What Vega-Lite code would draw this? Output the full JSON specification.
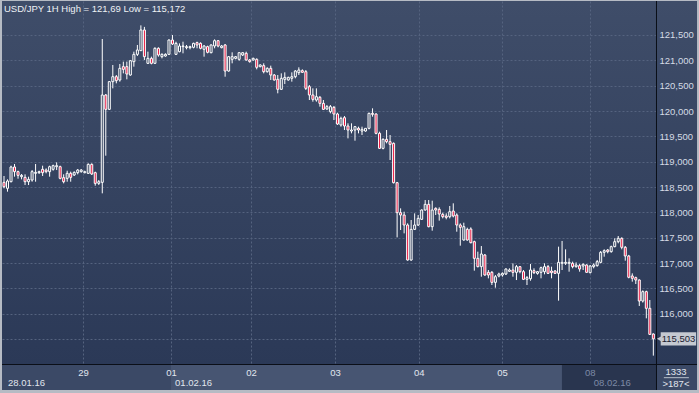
{
"$schema": "https://vega.github.io/schema/vega-lite/v6.json",
"width": 654, "height": 363,
"autosize": {"type": "none"},
"padding": {"left": 2, "top": 1, "right": 43, "bottom": 29},
"background": "#b6bbc4",
"view": {"fill": {"gradient": "linear", "x1": 0, "y1": 0, "x2": 0, "y2": 1, "stops": [{"offset": 0, "color": "#3f4d69"}, {"offset": 1, "color": "#2b3957"}]}, "stroke": null},
"title": {"text": "USD/JPY 1H High = 121,69 Low = 115,172", "anchor": "start", "frame": "group", "orient": "top", "offset": -13, "dx": 2, "fontSize": 9.5, "fontWeight": "normal", "color": "#eef1f5", "font": "Liberation Sans"},
"config": {"font": "Liberation Sans", "locale": {"number": {"decimal": ",", "thousands": ".", "grouping": [3], "currency": ["", ""]}}},
"datasets": {
"candles": [
{"i":0,"o":118.592,"h":118.717,"l":118.474,"c":118.506},
{"i":1,"o":118.474,"h":118.651,"l":118.408,"c":118.618},
{"i":2,"o":118.605,"h":118.921,"l":118.592,"c":118.895},
{"i":3,"o":118.895,"h":118.954,"l":118.704,"c":118.803},
{"i":4,"o":118.803,"h":118.822,"l":118.664,"c":118.730},
{"i":5,"o":118.704,"h":118.757,"l":118.651,"c":118.730},
{"i":6,"o":118.691,"h":118.750,"l":118.539,"c":118.605},
{"i":7,"o":118.605,"h":118.704,"l":118.539,"c":118.651},
{"i":8,"o":118.638,"h":118.835,"l":118.605,"c":118.803},
{"i":9,"o":118.770,"h":118.954,"l":118.605,"c":118.789},
{"i":10,"o":118.783,"h":118.822,"l":118.757,"c":118.803},
{"i":11,"o":118.849,"h":118.921,"l":118.717,"c":118.783},
{"i":12,"o":118.835,"h":118.868,"l":118.770,"c":118.803},
{"i":13,"o":118.803,"h":118.921,"l":118.704,"c":118.901},
{"i":14,"o":118.849,"h":118.941,"l":118.822,"c":118.921},
{"i":15,"o":118.901,"h":118.987,"l":118.835,"c":118.921},
{"i":16,"o":118.901,"h":118.921,"l":118.651,"c":118.671},
{"i":17,"o":118.684,"h":118.750,"l":118.572,"c":118.605},
{"i":18,"o":118.671,"h":118.822,"l":118.605,"c":118.770},
{"i":19,"o":118.770,"h":118.803,"l":118.605,"c":118.691},
{"i":20,"o":118.737,"h":118.809,"l":118.717,"c":118.789},
{"i":21,"o":118.783,"h":118.855,"l":118.750,"c":118.835},
{"i":22,"o":118.803,"h":118.855,"l":118.783,"c":118.835},
{"i":23,"o":118.783,"h":118.822,"l":118.770,"c":118.803},
{"i":24,"o":118.770,"h":118.967,"l":118.757,"c":118.947},
{"i":25,"o":118.947,"h":118.967,"l":118.737,"c":118.757},
{"i":26,"o":118.783,"h":118.803,"l":118.526,"c":118.572},
{"i":27,"o":118.572,"h":118.638,"l":118.539,"c":118.605},
{"i":28,"o":118.592,"h":121.421,"l":118.375,"c":120.316},
{"i":29,"o":120.316,"h":120.335,"l":119.118,"c":120.033},
{"i":30,"o":120.033,"h":120.592,"l":120.020,"c":120.579},
{"i":31,"o":120.579,"h":120.908,"l":120.447,"c":120.677},
{"i":32,"o":120.677,"h":120.710,"l":120.546,"c":120.599},
{"i":33,"o":120.612,"h":120.928,"l":120.579,"c":120.842},
{"i":34,"o":120.875,"h":120.974,"l":120.743,"c":120.822},
{"i":35,"o":120.875,"h":120.974,"l":120.625,"c":120.730},
{"i":36,"o":120.710,"h":121.007,"l":120.697,"c":120.993},
{"i":37,"o":120.974,"h":121.171,"l":120.875,"c":121.118},
{"i":38,"o":121.118,"h":121.303,"l":121.085,"c":121.204},
{"i":39,"o":121.191,"h":121.690,"l":121.191,"c":121.599},
{"i":40,"o":121.599,"h":121.660,"l":121.007,"c":121.072},
{"i":41,"o":120.941,"h":121.171,"l":120.928,"c":121.039},
{"i":42,"o":121.039,"h":121.072,"l":120.921,"c":120.941},
{"i":43,"o":120.941,"h":121.257,"l":120.928,"c":121.237},
{"i":44,"o":121.237,"h":121.257,"l":121.072,"c":121.105},
{"i":45,"o":121.072,"h":121.138,"l":121.039,"c":121.118},
{"i":46,"o":121.085,"h":121.138,"l":121.072,"c":121.118},
{"i":47,"o":121.118,"h":121.414,"l":121.105,"c":121.401},
{"i":48,"o":121.401,"h":121.500,"l":121.303,"c":121.322},
{"i":49,"o":121.118,"h":121.368,"l":121.105,"c":121.335},
{"i":50,"o":121.171,"h":121.335,"l":121.158,"c":121.283},
{"i":51,"o":121.270,"h":121.368,"l":121.138,"c":121.283},
{"i":52,"o":121.250,"h":121.303,"l":121.217,"c":121.270},
{"i":53,"o":121.250,"h":121.289,"l":121.217,"c":121.270},
{"i":54,"o":121.257,"h":121.349,"l":121.237,"c":121.335},
{"i":55,"o":121.349,"h":121.368,"l":121.237,"c":121.303},
{"i":56,"o":121.335,"h":121.355,"l":121.217,"c":121.237},
{"i":57,"o":121.217,"h":121.303,"l":121.072,"c":121.283},
{"i":58,"o":121.270,"h":121.289,"l":121.138,"c":121.158},
{"i":59,"o":121.151,"h":121.316,"l":121.138,"c":121.303},
{"i":60,"o":121.283,"h":121.414,"l":121.237,"c":121.388},
{"i":61,"o":121.388,"h":121.401,"l":121.257,"c":121.283},
{"i":62,"o":121.250,"h":121.303,"l":121.237,"c":121.283},
{"i":63,"o":121.303,"h":121.322,"l":120.677,"c":120.789},
{"i":64,"o":120.789,"h":121.085,"l":120.776,"c":121.072},
{"i":65,"o":121.020,"h":121.158,"l":120.941,"c":121.072},
{"i":66,"o":121.039,"h":121.085,"l":121.020,"c":121.072},
{"i":67,"o":121.020,"h":121.158,"l":120.993,"c":121.151},
{"i":68,"o":121.105,"h":121.158,"l":121.085,"c":121.151},
{"i":69,"o":121.138,"h":121.171,"l":120.993,"c":121.007},
{"i":70,"o":121.007,"h":121.026,"l":120.954,"c":120.974},
{"i":71,"o":121.007,"h":121.053,"l":120.993,"c":121.039},
{"i":72,"o":121.020,"h":121.039,"l":120.822,"c":120.862},
{"i":73,"o":120.875,"h":120.921,"l":120.862,"c":120.908},
{"i":74,"o":120.895,"h":120.941,"l":120.743,"c":120.776},
{"i":75,"o":120.776,"h":120.862,"l":120.757,"c":120.842},
{"i":76,"o":120.842,"h":120.895,"l":120.612,"c":120.710},
{"i":77,"o":120.710,"h":120.730,"l":120.599,"c":120.612},
{"i":78,"o":120.625,"h":120.710,"l":120.349,"c":120.428},
{"i":79,"o":120.428,"h":120.743,"l":120.414,"c":120.645},
{"i":80,"o":120.625,"h":120.763,"l":120.533,"c":120.664},
{"i":81,"o":120.612,"h":120.677,"l":120.599,"c":120.664},
{"i":82,"o":120.645,"h":120.763,"l":120.579,"c":120.677},
{"i":83,"o":120.677,"h":120.809,"l":120.645,"c":120.789},
{"i":84,"o":120.757,"h":120.862,"l":120.710,"c":120.809},
{"i":85,"o":120.796,"h":120.822,"l":120.757,"c":120.763},
{"i":86,"o":120.776,"h":120.809,"l":120.414,"c":120.447},
{"i":87,"o":120.480,"h":120.513,"l":120.217,"c":120.316},
{"i":88,"o":120.316,"h":120.447,"l":120.184,"c":120.230},
{"i":89,"o":120.217,"h":120.447,"l":120.184,"c":120.283},
{"i":90,"o":120.270,"h":120.296,"l":120.086,"c":120.151},
{"i":91,"o":120.151,"h":120.217,"l":120.020,"c":120.033},
{"i":92,"o":120.040,"h":120.118,"l":120.020,"c":120.086},
{"i":93,"o":119.987,"h":120.118,"l":119.954,"c":120.086},
{"i":94,"o":120.072,"h":120.099,"l":119.822,"c":119.941},
{"i":95,"o":119.941,"h":119.967,"l":119.724,"c":119.743},
{"i":96,"o":119.724,"h":119.888,"l":119.691,"c":119.855},
{"i":97,"o":119.868,"h":119.901,"l":119.625,"c":119.704},
{"i":98,"o":119.704,"h":119.757,"l":119.460,"c":119.625},
{"i":99,"o":119.605,"h":119.757,"l":119.559,"c":119.625},
{"i":100,"o":119.625,"h":119.704,"l":119.414,"c":119.691},
{"i":101,"o":119.658,"h":119.691,"l":119.559,"c":119.625},
{"i":102,"o":119.605,"h":119.691,"l":119.526,"c":119.638},
{"i":103,"o":119.605,"h":119.658,"l":119.592,"c":119.658},
{"i":104,"o":119.658,"h":119.967,"l":119.638,"c":119.954},
{"i":105,"o":119.954,"h":120.053,"l":119.888,"c":119.934},
{"i":106,"o":119.941,"h":119.954,"l":119.540,"c":119.559},
{"i":107,"o":119.559,"h":119.592,"l":119.250,"c":119.263},
{"i":108,"o":119.263,"h":119.460,"l":119.243,"c":119.441},
{"i":109,"o":119.441,"h":119.625,"l":119.362,"c":119.395},
{"i":110,"o":119.395,"h":119.526,"l":119.033,"c":119.342},
{"i":111,"o":119.362,"h":119.380,"l":118.570,"c":118.585},
{"i":112,"o":118.585,"h":118.600,"l":117.506,"c":117.993},
{"i":113,"o":117.993,"h":118.079,"l":117.651,"c":117.947},
{"i":114,"o":117.947,"h":118.013,"l":117.585,"c":117.750},
{"i":115,"o":117.750,"h":117.783,"l":117.046,"c":117.059},
{"i":116,"o":117.059,"h":117.849,"l":117.046,"c":117.664},
{"i":117,"o":117.664,"h":117.980,"l":117.651,"c":117.750},
{"i":118,"o":117.750,"h":117.947,"l":117.730,"c":117.881},
{"i":119,"o":117.862,"h":118.059,"l":117.849,"c":118.046},
{"i":120,"o":118.046,"h":118.243,"l":118.033,"c":118.158},
{"i":121,"o":118.158,"h":118.243,"l":117.704,"c":117.717},
{"i":122,"o":117.717,"h":118.230,"l":117.638,"c":118.046},
{"i":123,"o":118.079,"h":118.099,"l":117.947,"c":118.046},
{"i":124,"o":118.059,"h":118.099,"l":117.836,"c":117.967},
{"i":125,"o":117.960,"h":117.993,"l":117.881,"c":117.914},
{"i":126,"o":117.928,"h":117.980,"l":117.862,"c":117.901},
{"i":127,"o":117.914,"h":118.125,"l":117.881,"c":118.013},
{"i":128,"o":118.026,"h":118.178,"l":117.901,"c":117.928},
{"i":129,"o":117.947,"h":117.980,"l":117.618,"c":117.750},
{"i":130,"o":117.750,"h":117.783,"l":117.342,"c":117.704},
{"i":131,"o":117.454,"h":117.796,"l":117.441,"c":117.717},
{"i":132,"o":117.664,"h":117.697,"l":117.441,"c":117.454},
{"i":133,"o":117.671,"h":117.704,"l":117.388,"c":117.401},
{"i":134,"o":117.421,"h":117.441,"l":116.849,"c":117.092},
{"i":135,"o":117.092,"h":117.224,"l":116.914,"c":116.928},
{"i":136,"o":116.928,"h":117.335,"l":116.730,"c":117.178},
{"i":137,"o":117.158,"h":117.178,"l":116.750,"c":116.763},
{"i":138,"o":116.816,"h":116.862,"l":116.697,"c":116.763},
{"i":139,"o":116.816,"h":116.842,"l":116.566,"c":116.618},
{"i":140,"o":116.618,"h":116.763,"l":116.513,"c":116.730},
{"i":141,"o":116.743,"h":116.809,"l":116.717,"c":116.783},
{"i":142,"o":116.763,"h":116.816,"l":116.730,"c":116.796},
{"i":143,"o":116.783,"h":116.895,"l":116.763,"c":116.882},
{"i":144,"o":116.836,"h":116.895,"l":116.822,"c":116.862},
{"i":145,"o":116.862,"h":116.993,"l":116.730,"c":116.816},
{"i":146,"o":116.816,"h":116.961,"l":116.664,"c":116.928},
{"i":147,"o":116.928,"h":116.941,"l":116.796,"c":116.829},
{"i":148,"o":116.829,"h":116.862,"l":116.664,"c":116.678},
{"i":149,"o":116.678,"h":116.743,"l":116.566,"c":116.711},
{"i":150,"o":116.690,"h":116.980,"l":116.651,"c":116.862},
{"i":151,"o":116.849,"h":116.895,"l":116.783,"c":116.809},
{"i":152,"o":116.796,"h":116.842,"l":116.770,"c":116.829},
{"i":153,"o":116.816,"h":116.928,"l":116.698,"c":116.908},
{"i":154,"o":116.829,"h":116.994,"l":116.777,"c":116.928},
{"i":155,"o":116.928,"h":116.961,"l":116.783,"c":116.796},
{"i":156,"o":116.842,"h":116.928,"l":116.698,"c":116.809},
{"i":157,"o":116.842,"h":116.862,"l":116.783,"c":116.796},
{"i":158,"o":116.796,"h":117.323,"l":116.257,"c":117.013},
{"i":159,"o":116.994,"h":117.435,"l":116.862,"c":117.013},
{"i":160,"o":116.994,"h":117.270,"l":116.961,"c":117.013},
{"i":161,"o":116.994,"h":117.092,"l":116.829,"c":117.013},
{"i":162,"o":116.994,"h":117.027,"l":116.895,"c":116.928},
{"i":163,"o":116.928,"h":117.013,"l":116.908,"c":116.961},
{"i":164,"o":116.948,"h":116.981,"l":116.829,"c":116.882},
{"i":165,"o":116.941,"h":116.994,"l":116.862,"c":116.974},
{"i":166,"o":116.961,"h":116.974,"l":116.810,"c":116.816},
{"i":167,"o":116.810,"h":116.961,"l":116.796,"c":116.941},
{"i":168,"o":116.928,"h":116.994,"l":116.895,"c":116.961},
{"i":169,"o":116.948,"h":117.060,"l":116.928,"c":117.027},
{"i":170,"o":117.013,"h":117.237,"l":116.994,"c":117.211},
{"i":171,"o":117.211,"h":117.270,"l":117.125,"c":117.244},
{"i":172,"o":117.257,"h":117.277,"l":117.191,"c":117.224},
{"i":173,"o":117.224,"h":117.343,"l":117.204,"c":117.323},
{"i":174,"o":117.323,"h":117.487,"l":117.310,"c":117.421},
{"i":175,"o":117.421,"h":117.533,"l":117.389,"c":117.487},
{"i":176,"o":117.487,"h":117.507,"l":117.270,"c":117.310},
{"i":177,"o":117.310,"h":117.336,"l":117.046,"c":117.139},
{"i":178,"o":117.139,"h":117.160,"l":116.698,"c":116.718},
{"i":179,"o":116.744,"h":116.796,"l":116.632,"c":116.698},
{"i":180,"o":116.711,"h":116.731,"l":116.586,"c":116.665},
{"i":181,"o":116.665,"h":116.678,"l":116.152,"c":116.250},
{"i":182,"o":116.250,"h":116.460,"l":116.220,"c":116.435},
{"i":183,"o":116.435,"h":116.454,"l":115.908,"c":116.106},
{"i":184,"o":116.106,"h":116.270,"l":115.579,"c":115.592},
{"i":185,"o":115.599,"h":115.612,"l":115.172,"c":115.503}
],
"days": [
{"i": 0, "date": "28.01.16"},
{"i": 47.6, "date": "01.02.16"},
{"i": 166.9, "date": "08.02.16"}
],
"last": [{"price": 115.503}]
},
"layer": [
{"data": {"values": [{}]},
 "mark": {"type": "rect", "fill": {"gradient": "linear", "x1": 0, "y1": 0, "x2": 0, "y2": 1, "stops": [{"offset": 0, "color": "#3f4d69"}, {"offset": 1, "color": "#2b3957"}]}},
 "encoding": {
  "x": {"datum": 185.76, "type": "quantitative", "scale": {"domain": [-0.57, 185.76], "nice": false, "zero": false, "padding": 0}, "axis": null},
  "x2": {"datum": 197.45},
  "y": {"datum": 122.171, "type": "quantitative", "scale": {"domain": [115.007, 122.171], "nice": false, "zero": false, "padding": 0}, "axis": null},
  "y2": {"datum": 115.007}}},
{"data": {"values": [{}]},
 "mark": {"type": "rect", "fill": "#3b4966"},
 "encoding": {
  "x": {"datum": -0.57, "type": "quantitative", "scale": {"domain": [-0.57, 185.76], "nice": false, "zero": false, "padding": 0}, "axis": null},
  "x2": {"datum": 197.45},
  "y": {"datum": 115.007, "type": "quantitative", "scale": {"domain": [115.007, 122.171], "nice": false, "zero": false, "padding": 0}, "axis": null},
  "y2": {"datum": 114.494}}},
{"data": {"values": [{}]},
 "mark": {"type": "rect", "fill": "#475572"},
 "encoding": {
  "x": {"datum": 47.58, "type": "quantitative", "scale": {"domain": [-0.57, 185.76], "nice": false, "zero": false, "padding": 0}, "axis": null},
  "x2": {"datum": 158.97},
  "y": {"datum": 114.987, "type": "quantitative", "scale": {"domain": [115.007, 122.171], "nice": false, "zero": false, "padding": 0}, "axis": null},
  "y2": {"datum": 114.494}}},
{"data": {"values": [{}]},
 "mark": {"type": "rect", "fill": "#29354f"},
 "encoding": {
  "x": {"datum": 158.97, "type": "quantitative", "scale": {"domain": [-0.57, 185.76], "nice": false, "zero": false, "padding": 0}, "axis": null},
  "x2": {"datum": 185.76},
  "y": {"datum": 114.987, "type": "quantitative", "scale": {"domain": [115.007, 122.171], "nice": false, "zero": false, "padding": 0}, "axis": null},
  "y2": {"datum": 114.494}}},
{"data": {"values": [{}]},
 "mark": {"type": "rule", "color": "#b8c0cc", "strokeWidth": 1},
 "encoding": {
  "x": {"datum": 188.0, "type": "quantitative", "scale": {"domain": [-0.57, 185.76], "nice": false, "zero": false, "padding": 0}, "axis": null},
  "x2": {"datum": 195.12},
  "y": {"datum": 114.737, "type": "quantitative", "scale": {"domain": [115.007, 122.171], "nice": false, "zero": false, "padding": 0}, "axis": null}}},
{"data": {"values": [{}]},
 "mark": {"type": "rule", "color": "#0b0f18", "strokeWidth": 1},
 "encoding": {
  "x": {"datum": -0.57, "type": "quantitative", "scale": {"domain": [-0.57, 185.76], "nice": false, "zero": false, "padding": 0}, "axis": null},
  "x2": {"datum": 197.45},
  "y": {"datum": 114.997, "type": "quantitative", "scale": {"domain": [115.007, 122.171], "nice": false, "zero": false, "padding": 0}, "axis": null}}},
{"data": {"values": [{}]},
 "mark": {"type": "rule", "color": "#0b0f18", "strokeWidth": 1},
 "encoding": {
  "x": {"datum": 185.90, "type": "quantitative", "scale": {"domain": [-0.57, 185.76], "nice": false, "zero": false, "padding": 0}, "axis": null},
  "y": {"datum": 122.171, "type": "quantitative", "scale": {"domain": [115.007, 122.171], "nice": false, "zero": false, "padding": 0}, "axis": null},
  "y2": {"datum": 114.494}}},
{"data": {"name": "candles"},
 "mark": {"type": "rule", "color": "#ffffff", "strokeWidth": 1},
 "encoding": {
  "x": {"field": "i", "type": "quantitative", "scale": {"domain": [-0.57, 185.76], "nice": false, "zero": false, "padding": 0},
        "axis": {"orient": "bottom", "values": [22.5, 47.6, 70.4, 94.3, 118.2, 141.9, 166.9], "grid": true, "gridColor": "#55637f", "gridDash": [2, 2], "gridWidth": 1, "labels": false, "ticks": false, "domain": false, "title": null, "zindex": 0}},
  "y": {"field": "l", "type": "quantitative", "scale": {"domain": [115.007, 122.171], "nice": false, "zero": false, "padding": 0},
        "axis": {"orient": "left", "values": [115.5, 116, 116.5, 117, 117.5, 118, 118.5, 119, 119.5, 120, 120.5, 121, 121.5], "grid": true, "gridColor": "#55637f", "gridDash": [2, 2], "gridWidth": 1, "labels": false, "ticks": false, "domain": false, "title": null, "zindex": 0}},
  "y2": {"field": "h"}}},
{"data": {"name": "candles"},
 "mark": {"type": "bar", "width": 2, "stroke": "#ffffff", "strokeWidth": 1},
 "encoding": {
  "x": {"field": "i", "type": "quantitative", "scale": {"domain": [-0.57, 185.76], "nice": false, "zero": false, "padding": 0}, "axis": null},
  "y": {"field": "o", "type": "quantitative", "scale": {"domain": [115.007, 122.171], "nice": false, "zero": false, "padding": 0}, "axis": null},
  "y2": {"field": "c"},
  "fill": {"condition": {"test": "datum.c < datum.o", "value": "#e8123c"}, "value": "#36445f"}}},
{"data": {"name": "last"},
 "mark": {"type": "rect", "fill": "#c5c9d1"},
 "encoding": {
  "x": {"datum": 187.1, "type": "quantitative", "scale": {"domain": [-0.57, 185.76], "nice": false, "zero": false, "padding": 0}, "axis": null},
  "x2": {"datum": 197.2},
  "y": {"datum": 115.636, "type": "quantitative", "scale": {"domain": [115.007, 122.171], "nice": false, "zero": false, "padding": 0}, "axis": null},
  "y2": {"datum": 115.37}}},
{"data": {"name": "last"},
 "mark": {"type": "point", "shape": "triangle-left", "filled": true, "size": 45, "color": "#c5c9d1", "opacity": 1},
 "encoding": {
  "x": {"datum": 186.85, "type": "quantitative", "scale": {"domain": [-0.57, 185.76], "nice": false, "zero": false, "padding": 0}, "axis": null},
  "y": {"field": "price", "type": "quantitative", "scale": {"domain": [115.007, 122.171], "nice": false, "zero": false, "padding": 0}, "axis": null}}},
{"data": {"name": "last"},
 "mark": {"type": "text", "align": "left", "baseline": "middle", "fontSize": 9.5, "color": "#1b2030", "font": "Liberation Sans"},
 "encoding": {
  "x": {"datum": 187.4, "type": "quantitative", "scale": {"domain": [-0.57, 185.76], "nice": false, "zero": false, "padding": 0}, "axis": null},
  "y": {"field": "price", "type": "quantitative", "scale": {"domain": [115.007, 122.171], "nice": false, "zero": false, "padding": 0},
        "axis": {"orient": "right", "values": [116, 116.5, 117, 117.5, 118, 118.5, 119, 119.5, 120, 120.5, 121, 121.5], "format": ".3f", "grid": false, "ticks": false, "domain": false, "title": null, "labelAlign": "left", "labelBaseline": "middle", "labelPadding": 3, "labelFontSize": 9.5, "labelFont": "Liberation Sans", "labelColor": "#d5dbe5", "labelOverlap": false, "labelFlush": false, "labelBound": false, "zindex": 1}},
  "text": {"field": "price", "type": "quantitative", "format": ".3f"}}},
{"data": {"name": "days"},
 "mark": {"type": "text", "align": "left", "baseline": "middle", "dx": 4, "fontSize": 9.5, "font": "Liberation Sans"},
 "encoding": {
  "x": {"field": "i", "type": "quantitative", "scale": {"domain": [-0.57, 185.76], "nice": false, "zero": false, "padding": 0},
        "axis": {"orient": "bottom", "values": [22.5, 47.6, 70.4, 94.3, 118.2, 141.9, 166.9], "labelExpr": "datum.value < 30 ? '29' : datum.value < 60 ? '01' : datum.value < 80 ? '02' : datum.value < 100 ? '03' : datum.value < 130 ? '04' : datum.value < 150 ? '05' : '08'", "grid": false, "ticks": false, "domain": false, "title": null, "labelAlign": "center", "labelBaseline": "middle", "labelPadding": 8.7, "labelFontSize": 9.5, "labelFont": "Liberation Sans", "labelColor": {"condition": {"test": "datum.value > 160", "value": "#7d8aa6"}, "value": "#e1e6ee"}, "labelOverlap": false, "labelFlush": false, "labelBound": false, "zindex": 1}},
  "y": {"datum": 114.626, "type": "quantitative", "scale": {"domain": [115.007, 122.171], "nice": false, "zero": false, "padding": 0}, "axis": null},
  "text": {"field": "date", "type": "nominal"},
  "color": {"condition": {"test": "datum.i > 160", "value": "#7d8aa6"}, "value": "#e1e6ee"}}},
{"data": {"values": [{"t": "1333", "row": 114.855}, {"t": ">187<", "row": 114.612}]},
 "mark": {"type": "text", "align": "center", "baseline": "middle", "fontSize": 9.5, "color": "#e1e6ee", "font": "Liberation Sans"},
 "encoding": {
  "x": {"datum": 191.45, "type": "quantitative", "scale": {"domain": [-0.57, 185.76], "nice": false, "zero": false, "padding": 0}, "axis": null},
  "y": {"field": "row", "type": "quantitative", "scale": {"domain": [115.007, 122.171], "nice": false, "zero": false, "padding": 0}, "axis": null},
  "text": {"field": "t", "type": "nominal"}}}
],
"resolve": {"axis": {"x": "independent", "y": "independent"}}
}
